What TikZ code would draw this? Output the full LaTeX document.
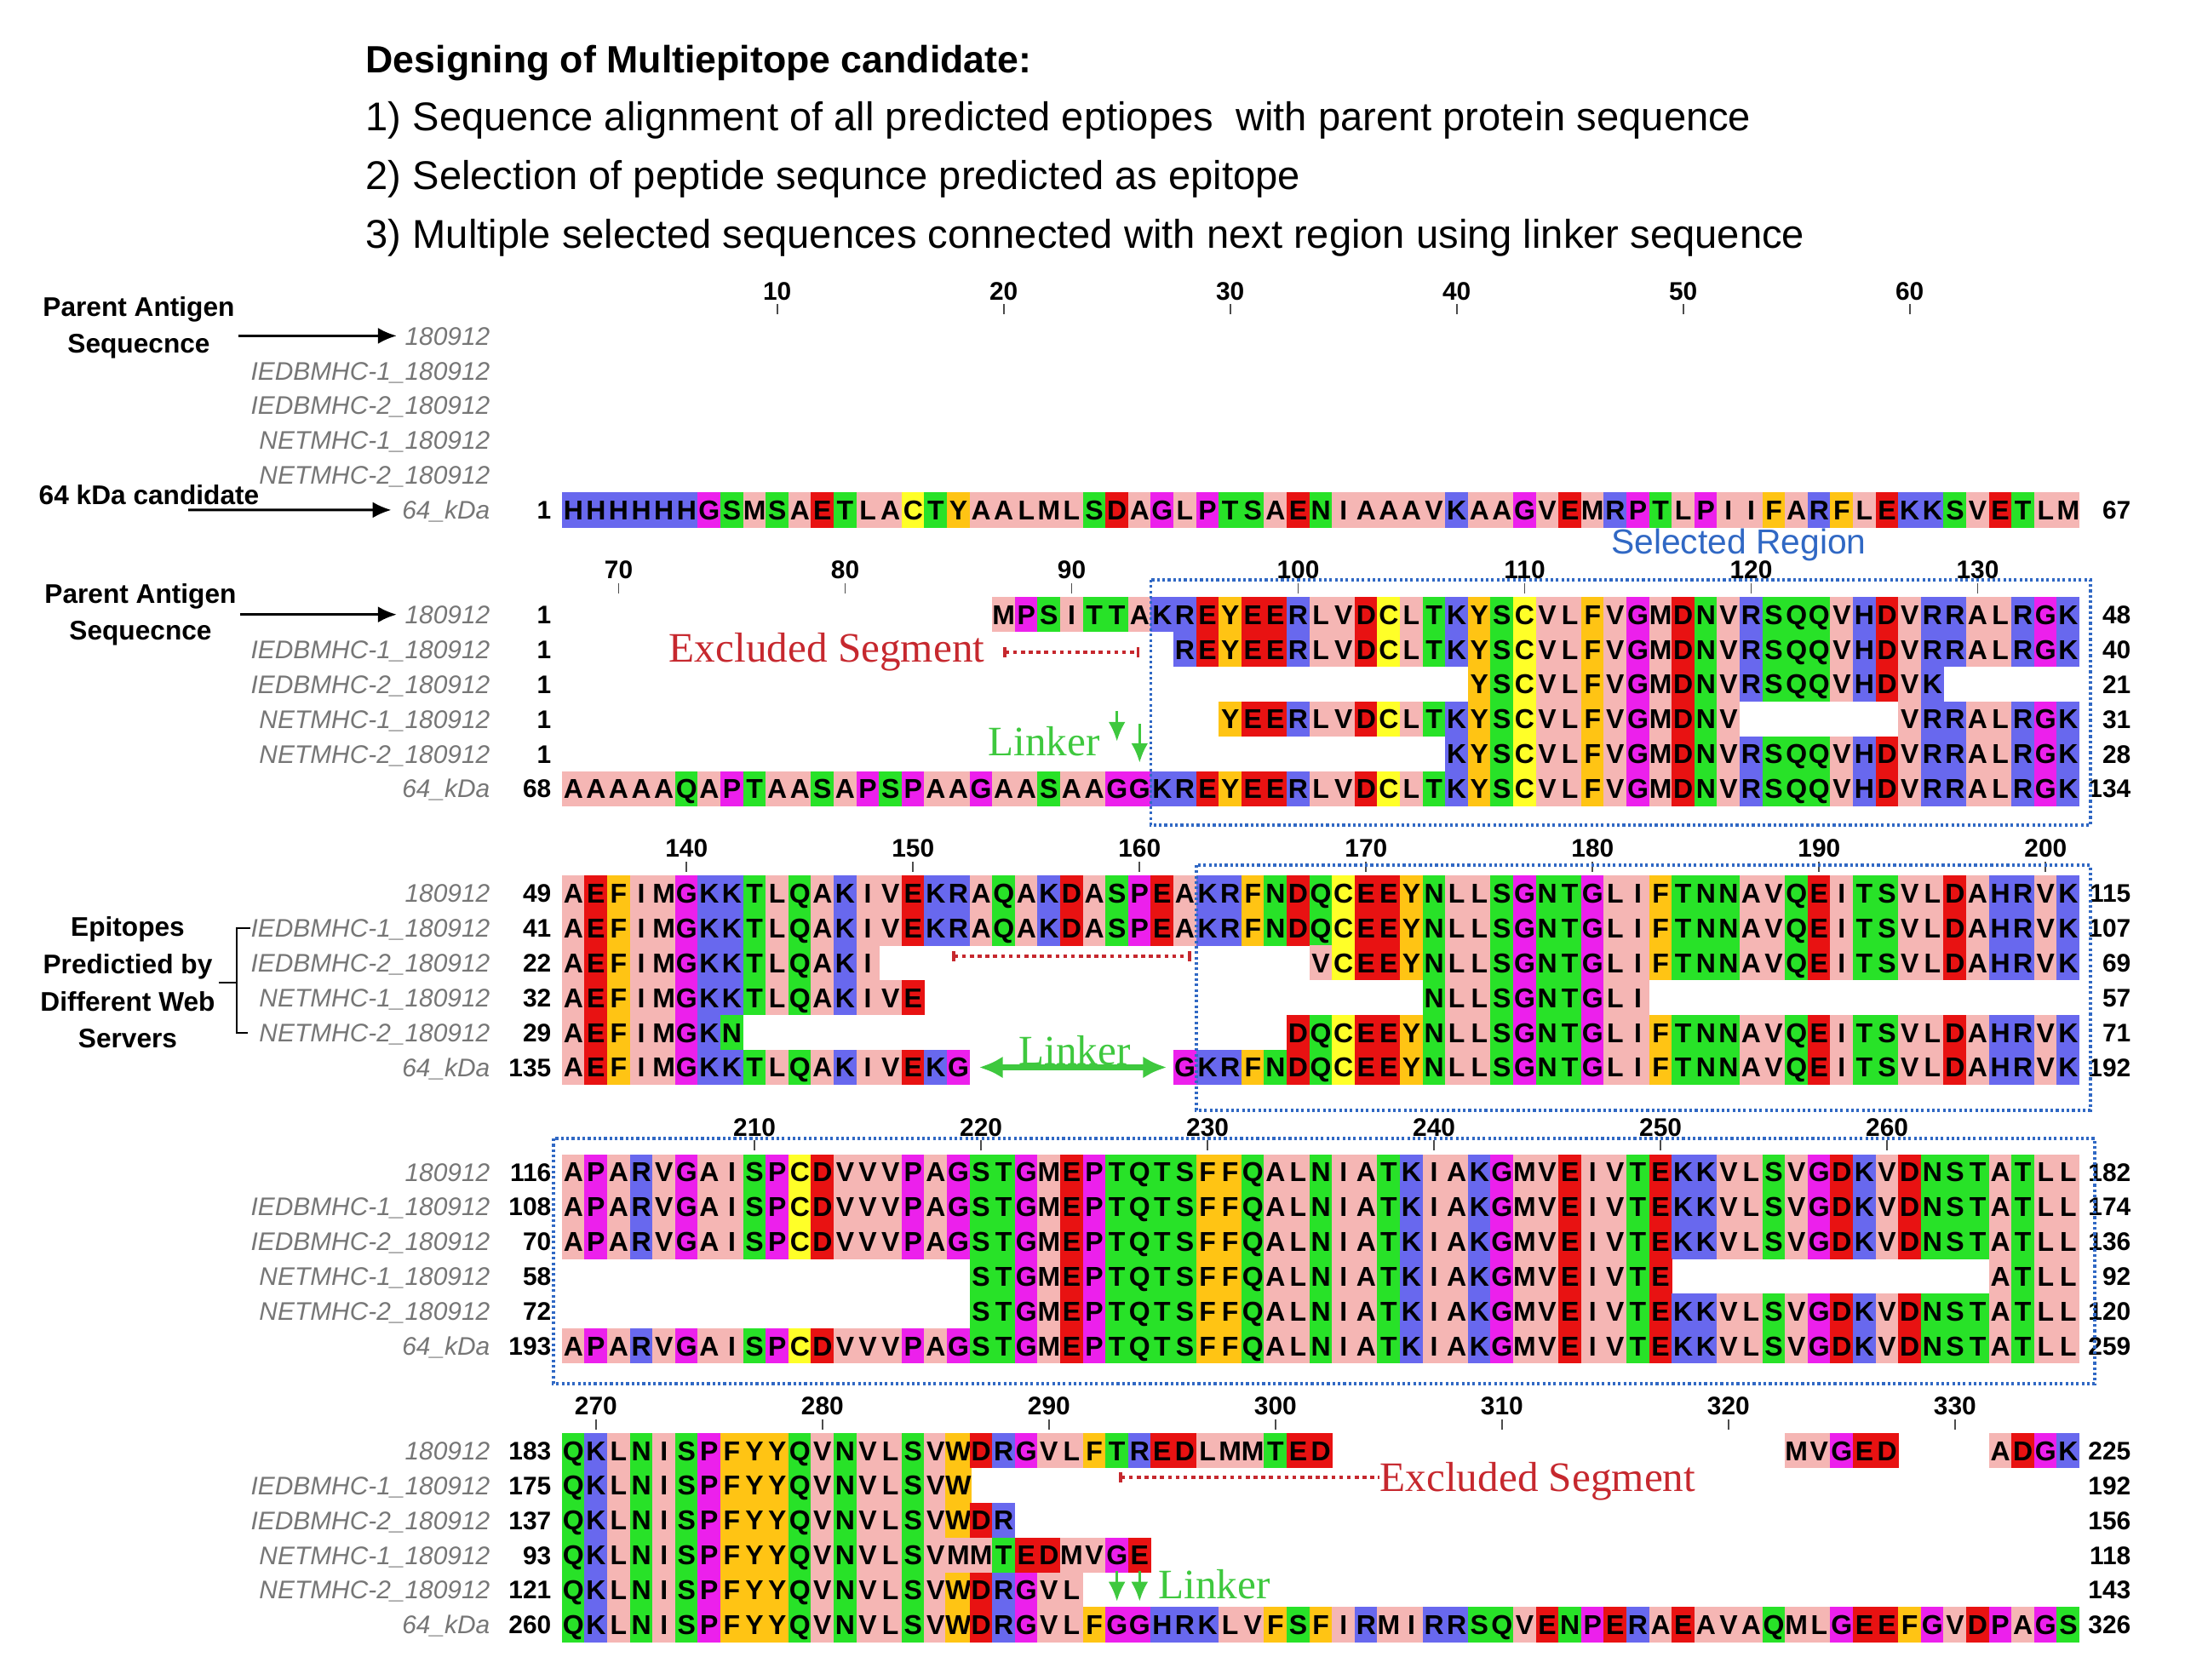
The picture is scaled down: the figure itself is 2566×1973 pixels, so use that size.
\documentclass[tikz,border=0pt]{standalone}
\usepackage{fontspec}
\setmainfont{Liberation Sans}
\newfontfamily\notefont{Liberation Serif}
\usetikzlibrary{arrows.meta}

\definecolor{zhyd}{RGB}{245,182,180}
\definecolor{zaro}{RGB}{255,196,20}
\definecolor{zpos}{RGB}{104,104,238}
\definecolor{zneg}{RGB}{232,18,18}
\definecolor{zpol}{RGB}{40,226,40}
\definecolor{zspe}{RGB}{236,32,236}
\definecolor{zcys}{RGB}{255,255,40}
\definecolor{selblue}{RGB}{48,104,196}
\definecolor{exred}{RGB}{198,40,46}
\definecolor{lkgreen}{RGB}{62,200,62}
\definecolor{namegray}{RGB}{118,118,118}
\colorlet{resA}{zhyd}\colorlet{resI}{zhyd}\colorlet{resL}{zhyd}\colorlet{resM}{zhyd}\colorlet{resV}{zhyd}
\colorlet{resF}{zaro}\colorlet{resY}{zaro}\colorlet{resW}{zaro}
\colorlet{resK}{zpos}\colorlet{resR}{zpos}\colorlet{resH}{zpos}
\colorlet{resD}{zneg}\colorlet{resE}{zneg}
\colorlet{resS}{zpol}\colorlet{resT}{zpol}\colorlet{resN}{zpol}\colorlet{resQ}{zpol}
\colorlet{resG}{zspe}\colorlet{resP}{zspe}
\colorlet{resC}{zcys}

\tikzset{
  resbox/.style={minimum width=0.27cm, minimum height=0.413cm, inner sep=0pt, text height=6.5pt, text depth=0pt, font=\fontsize{9.1}{10}\selectfont\bfseries},
  rowname/.style={anchor=east, inner sep=0pt, text height=6.1pt, text depth=0pt, text=namegray, font=\fontsize{8.5}{10}\selectfont\itshape},
  idx/.style={anchor=east, inner sep=0pt, text height=6.1pt, text depth=0pt, font=\fontsize{8.5}{10}\selectfont\bfseries},
  rulernum/.style={inner sep=0pt, text height=6.1pt, text depth=0pt, font=\fontsize{8.5}{10}\selectfont\bfseries},
  rulertick/.style={line width=0.5pt, black!70},
  headline/.style={anchor=base west, inner sep=0pt, font=\fontsize{13.4}{16}\selectfont},
  sidelabel/.style={align=center, inner sep=1pt, font=\fontsize{9}{12.4}\selectfont\bfseries},
  pointer/.style={arrows={-Latex[length=2.2mm,width=1.9mm]}, line width=0.8pt},
  selbox/.style={selblue, line width=1pt, dash pattern=on 0.9pt off 0.9pt},
  exclline/.style={exred, line width=1.2pt, dash pattern=on 1.3pt off 1.3pt, arrows={Bar[width=3.5pt,line width=1pt]-Bar[width=3.5pt,line width=1pt]}},
  exclabel/.style={text=exred, inner sep=0pt, font=\notefont\fontsize{14}{16}\selectfont},
  linklabel/.style={text=lkgreen, inner sep=0pt, font=\notefont\fontsize{14}{16}\selectfont},
  linkdown/.style={lkgreen, line width=1pt, arrows={-Latex[length=2.3mm,width=2mm]}},
  linkboth/.style={lkgreen, line width=1.8pt, arrows={Latex[length=2.8mm,width=2.6mm]-Latex[length=2.8mm,width=2.6mm]}}
}

\newcounter{colno}
\newcommand\seqrow[4]{\def\curblk{#1}\def\currow{#2}\setcounter{colno}{#3}\expandafter\seqnext#4\relax}
\newcommand\seqnext[1]{%
  \ifx\relax#1\else
    \edef\cc{\arabic{colno}}%
    \pgfmathsetmacro\cx{646.7+26.6*\cc}%
    \pgfmathsetmacro\cy{394.4+327.3*\curblk+40.9*\currow}%
    \node[resbox,fill=res#1] (c-\curblk-\currow-\cc) at (\cx,\cy) {#1};%
    \stepcounter{colno}%
    \expandafter\seqnext
  \fi}
\newcommand\seqblkc{AEFIMGKKTLQAKIVEKRAQAKDASPEAKRFNDQCEEYNLLSGNTGLIFTNNAVQEITSVLDAHRVK}
\newcommand\seqblkd{APARVGAISPCDVVVPAGSTGMEPTQTSFFQALNIATKIAKGMVEIVTEKKVLSVGDKVDNSTATLL}

\begin{document}
\begin{tikzpicture}[x=0.01cm, y=-0.01cm]
    \useasboundingbox (0,0) rectangle (2566,1973);

    \node[headline, font=\fontsize{12.7}{15}\selectfont\bfseries] (title) at (429,86) {Designing of Multiepitope candidate:};
    \node[headline] (step-1) at (429,154) {1) Sequence alignment of all predicted eptiopes\ \ with parent protein sequence};
    \node[headline] (step-2) at (429,223) {2) Selection of peptide sequnce predicted as epitope};
    \node[headline] (step-3) at (429,292) {3) Multiple selected sequences connected with next region using linker sequence};

    \foreach \b in {0,...,4}
        \foreach \nm [count=\rw from 0] in {180912,IEDBMHC-1\_180912,IEDBMHC-2\_180912,NETMHC-1\_180912,NETMHC-2\_180912,64\_kDa}
            \node[rowname] (rn-\b-\rw) at (576,{394.4+327.3*\b+40.9*\rw}) {\nm};

    \node[idx] (st-0-5) at (648,598.9) {1};
    \node[idx] (en-0-5) at (2503,598.9) {67};
    \foreach \b/\firsts/\lasts in {1/{1,1,1,1,1,68}/{48,40,21,31,28,134},2/{49,41,22,32,29,135}/{115,107,69,57,71,192},3/{116,108,70,58,72,193}/{182,174,136,92,120,259},4/{183,175,137,93,121,260}/{225,192,156,118,143,326}}{
        \foreach \s [count=\rw from 0] in \firsts
            \node[idx] (st-\b-\rw) at (648,{394.4+327.3*\b+40.9*\rw}) {\s};
        \foreach \e [count=\rw from 0] in \lasts
            \node[idx] (en-\b-\rw) at (2503,{394.4+327.3*\b+40.9*\rw}) {\e};
    }

    \foreach \b/\first in {0/10,1/70,2/140,3/210,4/270}{
        \pgfmathtruncatemacro\second{\first+10}
        \pgfmathtruncatemacro\last{67*\b+67}
        \pgfmathsetmacro\yr{394.4+327.3*\b}
        \foreach \n in {\first,\second,...,\last}{
            \pgfmathsetmacro\xr{646.7+26.6*(\n-67*\b)}
            \node[rulernum] (rl-\n) at (\xr,{\yr-53}) {\n};
            \draw[rulertick] (\xr,{\yr-37}) -- (\xr,{\yr-25});
        }
    }

    \seqrow{0}{5}{1}{HHHHHHGSMSAETLACTYAALMLSDAGLPTSAENIAAAVKAAGVEMRPTLPIIFARFLEKKSVETLM}
    \seqrow{1}{0}{20}{MPSITTAKREYEERLVDCLTKYSCVLFVGMDNVRSQQVHDVRRALRGK}
    \seqrow{1}{1}{28}{REYEERLVDCLTKYSCVLFVGMDNVRSQQVHDVRRALRGK}
    \seqrow{1}{2}{41}{YSCVLFVGMDNVRSQQVHDVK}
    \seqrow{1}{3}{30}{YEERLVDCLTKYSCVLFVGMDNV}
    \seqrow{1}{3}{60}{VRRALRGK}
    \seqrow{1}{4}{40}{KYSCVLFVGMDNVRSQQVHDVRRALRGK}
    \seqrow{1}{5}{1}{AAAAAQAPTAASAPSPAAGAASAAGGKREYEERLVDCLTKYSCVLFVGMDNVRSQQVHDVRRALRGK}
    \seqrow{2}{0}{1}{\seqblkc}
    \seqrow{2}{1}{1}{\seqblkc}
    \seqrow{2}{2}{1}{AEFIMGKKTLQAKI}
    \seqrow{2}{2}{34}{VCEEYNLLSGNTGLIFTNNAVQEITSVLDAHRVK}
    \seqrow{2}{3}{1}{AEFIMGKKTLQAKIVE}
    \seqrow{2}{3}{39}{NLLSGNTGLI}
    \seqrow{2}{4}{1}{AEFIMGKN}
    \seqrow{2}{4}{33}{DQCEEYNLLSGNTGLIFTNNAVQEITSVLDAHRVK}
    \seqrow{2}{5}{1}{AEFIMGKKTLQAKIVEKG}
    \seqrow{2}{5}{28}{GKRFNDQCEEYNLLSGNTGLIFTNNAVQEITSVLDAHRVK}
    \seqrow{3}{0}{1}{\seqblkd}
    \seqrow{3}{1}{1}{\seqblkd}
    \seqrow{3}{2}{1}{\seqblkd}
    \seqrow{3}{3}{19}{STGMEPTQTSFFQALNIATKIAKGMVEIVTE}
    \seqrow{3}{3}{64}{ATLL}
    \seqrow{3}{4}{19}{STGMEPTQTSFFQALNIATKIAKGMVEIVTEKKVLSVGDKVDNSTATLL}
    \seqrow{3}{5}{1}{\seqblkd}
    \seqrow{4}{0}{1}{QKLNISPFYYQVNVLSVWDRGVLFTREDLMMTED}
    \seqrow{4}{0}{55}{MVGED}
    \seqrow{4}{0}{64}{ADGK}
    \seqrow{4}{1}{1}{QKLNISPFYYQVNVLSVW}
    \seqrow{4}{2}{1}{QKLNISPFYYQVNVLSVWDR}
    \seqrow{4}{3}{1}{QKLNISPFYYQVNVLSVMMTEDMVGE}
    \seqrow{4}{4}{1}{QKLNISPFYYQVNVLSVWDRGVL}
    \seqrow{4}{5}{1}{QKLNISPFYYQVNVLSVWDRGVLFGGHRKLVFSFIRMIRRSQVENPERAEAVAQMLGEEFGVDPAGS}

    \draw[selbox] (1351.6,681) rectangle (2455,969);
    \draw[selbox] (1404.8,1016) rectangle (2455,1304);
    \draw[selbox] (650,1337) rectangle (2460,1625);
    \node[text=selblue, inner sep=0pt, font=\fontsize{11.6}{14}\selectfont] (selreg) at (2042,640) {Selected Region};

    \node[sidelabel] (pa-0) at (163,385) {Parent Antigen\\Sequecnce};
    \node[sidelabel] (cand) at (175,581) {64 kDa candidate};
    \node[sidelabel] (pa-1) at (165,722) {Parent Antigen\\Sequecnce};
    \node[sidelabel] (epi) at (150,1154) {Epitopes\\Predictied by\\Different Web\\Servers};
    \coordinate (cand-tail) at (221,598.9);
    \coordinate (brk) at (278,0);
    \draw[pointer, shorten >=0.9mm] (pa-0.east |- rn-0-0.west) -- (rn-0-0.west);
    \draw[pointer, shorten >=1.2mm] (cand-tail) -- (rn-0-5.west);
    \draw[pointer, shorten >=0.9mm] (pa-1.east |- rn-1-0.west) -- (rn-1-0.west);
    \draw[line width=0.6pt] (rn-2-1.west) -- (rn-2-1.west -| brk) -- (rn-2-4.west -| brk) -- ([xshift=-1.3mm]rn-2-4.west);
    \draw[line width=0.6pt] (epi.east) -- (epi.east -| brk);

    \node[exclabel, anchor=east] (ex-1) at (1157,766) {Excluded Segment};
    \draw[exclline, shorten <=2.1mm, shorten >=3.9mm] (ex-1.east) -- (ex-1.east -| c-1-1-28.west);
    \coordinate (gap-a) at (1118,1123);
    \coordinate (gap-b) at (1399,1123);
    \draw[exclline] (gap-a) -- (gap-b);
    \node[exclabel, anchor=west] (ex-4) at (1620,1740) {Excluded Segment};
    \coordinate (ex-4-tail) at (1314,1735);
    \draw[exclline, arrows={Bar[width=3.5pt,line width=1pt]-}] (ex-4-tail) -- (ex-4-tail -| ex-4.west);

    \node[linklabel] (lk-1) at (1226,871) {Linker};
    \draw[linkdown] ([yshift=7mm]c-1-5-25.north) -- ([yshift=3.4mm]c-1-5-25.north);
    \draw[linkdown] ([yshift=5.5mm]c-1-5-26.north) -- ([yshift=0.9mm]c-1-5-26.north);
    \node[linklabel] (lk-2) at (1262,1234) {Linker};
    \draw[linkboth, shorten <=1mm, shorten >=0.7mm] (c-2-5-18.east) -- (c-2-5-28.west);
    \node[linklabel] (lk-4) at (1426,1861) {Linker};
    \draw[linkdown] ([yshift=4.2mm]c-4-5-25.north) -- ([yshift=0.6mm]c-4-5-25.north);
    \draw[linkdown] ([yshift=4.2mm]c-4-5-26.north) -- ([yshift=0.6mm]c-4-5-26.north);
\end{tikzpicture}
\end{document}
